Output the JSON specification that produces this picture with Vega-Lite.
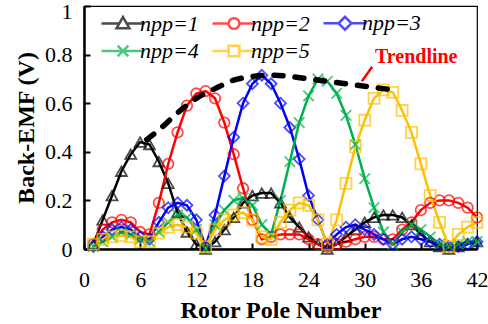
{
  "$schema": "https://vega.github.io/schema/vega-lite/v6.json",
  "width": 393,
  "height": 243,
  "autosize": "none",
  "padding": {"left": 84, "top": 6, "right": 11, "bottom": 75},
  "config": {
    "view": {"stroke": "black", "strokeWidth": 1.2},
    "font": "Liberation Serif",
    "axis": {
      "grid": false,
      "domainColor": "black",
      "domainWidth": 2.5,
      "tickColor": "black",
      "tickWidth": 2,
      "tickSize": -6,
      "labelFont": "Liberation Serif",
      "labelFontSize": 22,
      "labelColor": "black",
      "titleFont": "Liberation Serif",
      "titleFontSize": 24,
      "titleFontWeight": "bold",
      "titleColor": "black"
    }
  },
  "datasets": {
    "emf": [
      {"s":"npp=1","n":1,"v":0.02},{"s":"npp=1","n":2,"v":0.12},{"s":"npp=1","n":3,"v":0.22},{"s":"npp=1","n":4,"v":0.32},{"s":"npp=1","n":5,"v":0.39},{"s":"npp=1","n":6,"v":0.44},{"s":"npp=1","n":7,"v":0.43},{"s":"npp=1","n":8,"v":0.36},{"s":"npp=1","n":9,"v":0.27},{"s":"npp=1","n":10,"v":0.15},{"s":"npp=1","n":11,"v":0.07},{"s":"npp=1","n":12,"v":0.02},{"s":"npp=1","n":13,"v":0.0},{"s":"npp=1","n":14,"v":0.03},{"s":"npp=1","n":15,"v":0.08},{"s":"npp=1","n":16,"v":0.13},{"s":"npp=1","n":17,"v":0.19},{"s":"npp=1","n":18,"v":0.22},{"s":"npp=1","n":19,"v":0.23},{"s":"npp=1","n":20,"v":0.23},{"s":"npp=1","n":21,"v":0.19},{"s":"npp=1","n":22,"v":0.13},{"s":"npp=1","n":23,"v":0.09},{"s":"npp=1","n":24,"v":0.05},{"s":"npp=1","n":25,"v":0.02},{"s":"npp=1","n":26,"v":0.0},{"s":"npp=1","n":27,"v":0.02},{"s":"npp=1","n":28,"v":0.05},{"s":"npp=1","n":29,"v":0.08},{"s":"npp=1","n":30,"v":0.11},{"s":"npp=1","n":31,"v":0.13},{"s":"npp=1","n":32,"v":0.14},{"s":"npp=1","n":33,"v":0.14},{"s":"npp=1","n":34,"v":0.13},{"s":"npp=1","n":35,"v":0.1},{"s":"npp=1","n":36,"v":0.06},{"s":"npp=1","n":37,"v":0.03},{"s":"npp=1","n":38,"v":0.01},{"s":"npp=1","n":39,"v":0.0},{"s":"npp=1","n":40,"v":0.01},{"s":"npp=1","n":41,"v":0.02},{"s":"npp=1","n":42,"v":0.03},
      {"s":"npp=2","n":1,"v":0.02},{"s":"npp=2","n":2,"v":0.08},{"s":"npp=2","n":3,"v":0.11},{"s":"npp=2","n":4,"v":0.12},{"s":"npp=2","n":5,"v":0.11},{"s":"npp=2","n":6,"v":0.07},{"s":"npp=2","n":7,"v":0.06},{"s":"npp=2","n":8,"v":0.19},{"s":"npp=2","n":9,"v":0.35},{"s":"npp=2","n":10,"v":0.48},{"s":"npp=2","n":11,"v":0.59},{"s":"npp=2","n":12,"v":0.64},{"s":"npp=2","n":13,"v":0.65},{"s":"npp=2","n":14,"v":0.62},{"s":"npp=2","n":15,"v":0.52},{"s":"npp=2","n":16,"v":0.39},{"s":"npp=2","n":17,"v":0.25},{"s":"npp=2","n":18,"v":0.12},{"s":"npp=2","n":19,"v":0.04},{"s":"npp=2","n":20,"v":0.05},{"s":"npp=2","n":21,"v":0.06},{"s":"npp=2","n":22,"v":0.06},{"s":"npp=2","n":23,"v":0.06},{"s":"npp=2","n":24,"v":0.04},{"s":"npp=2","n":25,"v":0.02},{"s":"npp=2","n":26,"v":0.01},{"s":"npp=2","n":27,"v":0.02},{"s":"npp=2","n":28,"v":0.03},{"s":"npp=2","n":29,"v":0.04},{"s":"npp=2","n":30,"v":0.05},{"s":"npp=2","n":31,"v":0.05},{"s":"npp=2","n":32,"v":0.04},{"s":"npp=2","n":33,"v":0.04},{"s":"npp=2","n":34,"v":0.08},{"s":"npp=2","n":35,"v":0.11},{"s":"npp=2","n":36,"v":0.16},{"s":"npp=2","n":37,"v":0.19},{"s":"npp=2","n":38,"v":0.2},{"s":"npp=2","n":39,"v":0.2},{"s":"npp=2","n":40,"v":0.19},{"s":"npp=2","n":41,"v":0.17},{"s":"npp=2","n":42,"v":0.13},
      {"s":"npp=3","n":1,"v":0.01},{"s":"npp=3","n":2,"v":0.05},{"s":"npp=3","n":3,"v":0.08},{"s":"npp=3","n":4,"v":0.09},{"s":"npp=3","n":5,"v":0.08},{"s":"npp=3","n":6,"v":0.05},{"s":"npp=3","n":7,"v":0.04},{"s":"npp=3","n":8,"v":0.11},{"s":"npp=3","n":9,"v":0.17},{"s":"npp=3","n":10,"v":0.19},{"s":"npp=3","n":11,"v":0.18},{"s":"npp=3","n":12,"v":0.12},{"s":"npp=3","n":13,"v":0.01},{"s":"npp=3","n":14,"v":0.14},{"s":"npp=3","n":15,"v":0.3},{"s":"npp=3","n":16,"v":0.46},{"s":"npp=3","n":17,"v":0.6},{"s":"npp=3","n":18,"v":0.68},{"s":"npp=3","n":19,"v":0.715},{"s":"npp=3","n":20,"v":0.68},{"s":"npp=3","n":21,"v":0.6},{"s":"npp=3","n":22,"v":0.5},{"s":"npp=3","n":23,"v":0.37},{"s":"npp=3","n":24,"v":0.22},{"s":"npp=3","n":25,"v":0.12},{"s":"npp=3","n":26,"v":0.02},{"s":"npp=3","n":27,"v":0.06},{"s":"npp=3","n":28,"v":0.09},{"s":"npp=3","n":29,"v":0.1},{"s":"npp=3","n":30,"v":0.08},{"s":"npp=3","n":31,"v":0.06},{"s":"npp=3","n":32,"v":0.04},{"s":"npp=3","n":33,"v":0.02},{"s":"npp=3","n":34,"v":0.04},{"s":"npp=3","n":35,"v":0.05},{"s":"npp=3","n":36,"v":0.04},{"s":"npp=3","n":37,"v":0.03},{"s":"npp=3","n":38,"v":0.02},{"s":"npp=3","n":39,"v":0.01},{"s":"npp=3","n":40,"v":0.01},{"s":"npp=3","n":41,"v":0.02},{"s":"npp=3","n":42,"v":0.03},
      {"s":"npp=4","n":1,"v":0.01},{"s":"npp=4","n":2,"v":0.03},{"s":"npp=4","n":3,"v":0.05},{"s":"npp=4","n":4,"v":0.07},{"s":"npp=4","n":5,"v":0.06},{"s":"npp=4","n":6,"v":0.04},{"s":"npp=4","n":7,"v":0.03},{"s":"npp=4","n":8,"v":0.07},{"s":"npp=4","n":9,"v":0.11},{"s":"npp=4","n":10,"v":0.14},{"s":"npp=4","n":11,"v":0.13},{"s":"npp=4","n":12,"v":0.08},{"s":"npp=4","n":13,"v":0.0},{"s":"npp=4","n":14,"v":0.1},{"s":"npp=4","n":15,"v":0.16},{"s":"npp=4","n":16,"v":0.2},{"s":"npp=4","n":17,"v":0.21},{"s":"npp=4","n":18,"v":0.18},{"s":"npp=4","n":19,"v":0.1},{"s":"npp=4","n":20,"v":0.06},{"s":"npp=4","n":21,"v":0.2},{"s":"npp=4","n":22,"v":0.36},{"s":"npp=4","n":23,"v":0.52},{"s":"npp=4","n":24,"v":0.63},{"s":"npp=4","n":25,"v":0.7},{"s":"npp=4","n":26,"v":0.69},{"s":"npp=4","n":27,"v":0.64},{"s":"npp=4","n":28,"v":0.55},{"s":"npp=4","n":29,"v":0.43},{"s":"npp=4","n":30,"v":0.29},{"s":"npp=4","n":31,"v":0.17},{"s":"npp=4","n":32,"v":0.07},{"s":"npp=4","n":33,"v":0.02},{"s":"npp=4","n":34,"v":0.07},{"s":"npp=4","n":35,"v":0.1},{"s":"npp=4","n":36,"v":0.08},{"s":"npp=4","n":37,"v":0.05},{"s":"npp=4","n":38,"v":0.02},{"s":"npp=4","n":39,"v":0.01},{"s":"npp=4","n":40,"v":0.02},{"s":"npp=4","n":41,"v":0.03},{"s":"npp=4","n":42,"v":0.03},
      {"s":"npp=5","n":1,"v":0.02},{"s":"npp=5","n":2,"v":0.04},{"s":"npp=5","n":3,"v":0.05},{"s":"npp=5","n":4,"v":0.055},{"s":"npp=5","n":5,"v":0.05},{"s":"npp=5","n":6,"v":0.03},{"s":"npp=5","n":7,"v":0.03},{"s":"npp=5","n":8,"v":0.065},{"s":"npp=5","n":9,"v":0.09},{"s":"npp=5","n":10,"v":0.1},{"s":"npp=5","n":11,"v":0.09},{"s":"npp=5","n":12,"v":0.065},{"s":"npp=5","n":13,"v":0.01},{"s":"npp=5","n":14,"v":0.08},{"s":"npp=5","n":15,"v":0.12},{"s":"npp=5","n":16,"v":0.14},{"s":"npp=5","n":17,"v":0.15},{"s":"npp=5","n":18,"v":0.12},{"s":"npp=5","n":19,"v":0.05},{"s":"npp=5","n":20,"v":0.04},{"s":"npp=5","n":21,"v":0.11},{"s":"npp=5","n":22,"v":0.16},{"s":"npp=5","n":23,"v":0.19},{"s":"npp=5","n":24,"v":0.18},{"s":"npp=5","n":25,"v":0.12},{"s":"npp=5","n":26,"v":0.02},{"s":"npp=5","n":27,"v":0.12},{"s":"npp=5","n":28,"v":0.27},{"s":"npp=5","n":29,"v":0.42},{"s":"npp=5","n":30,"v":0.53},{"s":"npp=5","n":31,"v":0.62},{"s":"npp=5","n":32,"v":0.655},{"s":"npp=5","n":33,"v":0.645},{"s":"npp=5","n":34,"v":0.57},{"s":"npp=5","n":35,"v":0.48},{"s":"npp=5","n":36,"v":0.35},{"s":"npp=5","n":37,"v":0.22},{"s":"npp=5","n":38,"v":0.11},{"s":"npp=5","n":39,"v":0.01},{"s":"npp=5","n":40,"v":0.06},{"s":"npp=5","n":41,"v":0.09},{"s":"npp=5","n":42,"v":0.11}
    ],
    "trend": [
      {"n":6.7,"v":0.45},{"n":8,"v":0.49},{"n":10,"v":0.56},{"n":12,"v":0.62},{"n":14,"v":0.66},{"n":16,"v":0.695},{"n":18,"v":0.71},{"n":20,"v":0.715},{"n":22,"v":0.71},{"n":24,"v":0.7},{"n":26,"v":0.69},{"n":28,"v":0.68},{"n":30,"v":0.67},{"n":32,"v":0.66},{"n":33,"v":0.655}
    ],
    "note": [{"label": "Trendline"}]
  },
  "layer": [
    {
      "data": {"name": "emf"},
      "mark": {"type": "line", "strokeWidth": 2.5},
      "encoding": {
        "x": {"field": "n", "type": "quantitative", "scale": {"domain": [0, 42], "nice": false}, "axis": {"values": [0,6,12,18,24,30,36,42], "title": "Rotor Pole Number", "labelPadding": 26, "titlePadding": 8, "labelFlush": false}},
        "y": {"field": "v", "type": "quantitative", "scale": {"domain": [0, 1], "nice": false}, "axis": {"values": [0,0.2,0.4,0.6,0.8,1], "format": "~g", "title": "Back-EMF (V)", "labelPadding": 18, "titlePadding": 6, "labelFlush": false,
          "labelBaseline": {"condition": {"test": "datum.value == 1", "value": "top"}, "value": "middle"},
          "labelOffset": {"condition": {"test": "datum.value == 1", "value": -5}, "value": 0}}},
        "color": {"field": "s", "type": "nominal", "scale": {"domain": ["npp=1","npp=2","npp=3","npp=4","npp=5"], "range": ["#000000","#FF0000","#0000FF","#00B050","#FFC000"]},
          "legend": {"title": null, "orient": "none", "legendX": 27, "legendY": 5, "columns": 3, "gridAlign": "all", "direction": "horizontal", "symbolSize": 462, "symbolStrokeWidth": 2.5, "labelOffset": 5, "labelFont": "Liberation Serif", "labelFontSize": 22, "labelFontStyle": "italic", "labelColor": "black", "columnPadding": 8, "rowPadding": 4, "padding": 0}}
      }
    },
    {
      "data": {"name": "emf"},
      "transform": [{"filter": "datum.s == 'npp=1'"}],
      "mark": {"type": "point", "shape": "triangle-up", "filled": false, "size": 120, "strokeWidth": 1.8},
      "encoding": {"x": {"field": "n", "type": "quantitative"}, "y": {"field": "v", "type": "quantitative"}, "color": {"field": "s", "type": "nominal"}}
    },
    {
      "data": {"name": "emf"},
      "transform": [{"filter": "datum.s == 'npp=2'"}],
      "mark": {"type": "point", "shape": "circle", "filled": false, "size": 110, "strokeWidth": 1.8},
      "encoding": {"x": {"field": "n", "type": "quantitative"}, "y": {"field": "v", "type": "quantitative"}, "color": {"field": "s", "type": "nominal"}}
    },
    {
      "data": {"name": "emf"},
      "transform": [{"filter": "datum.s == 'npp=3'"}],
      "mark": {"type": "point", "shape": "diamond", "filled": false, "size": 120, "strokeWidth": 1.8},
      "encoding": {"x": {"field": "n", "type": "quantitative"}, "y": {"field": "v", "type": "quantitative"}, "color": {"field": "s", "type": "nominal"}}
    },
    {
      "data": {"name": "emf"},
      "transform": [{"filter": "datum.s == 'npp=4'"}],
      "mark": {"type": "point", "shape": "M-1,-1L1,1M-1,1L1,-1", "filled": false, "size": 110, "strokeWidth": 1.8},
      "encoding": {"x": {"field": "n", "type": "quantitative"}, "y": {"field": "v", "type": "quantitative"}, "color": {"field": "s", "type": "nominal"}}
    },
    {
      "data": {"name": "emf"},
      "transform": [{"filter": "datum.s == 'npp=5'"}],
      "mark": {"type": "point", "shape": "square", "filled": false, "size": 120, "strokeWidth": 1.8},
      "encoding": {"x": {"field": "n", "type": "quantitative"}, "y": {"field": "v", "type": "quantitative"}, "color": {"field": "s", "type": "nominal"}}
    },
    {
      "data": {"name": "emf"},
      "transform": [{"filter": "false"}],
      "mark": {"type": "point", "filled": false, "strokeWidth": 2.5},
      "encoding": {
        "x": {"field": "n", "type": "quantitative"},
        "y": {"field": "v", "type": "quantitative"},
        "color": {"field": "s", "type": "nominal"},
        "shape": {"field": "s", "type": "nominal",
          "scale": {"domain": ["npp=1","npp=2","npp=3","npp=4","npp=5"],
            "range": [
              "M-2,0H-0.35M0.35,0H2M0,-0.6L0.6,0.44L-0.6,0.44Z",
              "M-2,0H-0.5M0.5,0H2M-0.5,0A0.5,0.5,0,1,1,0.5,0A0.5,0.5,0,1,1,-0.5,0Z",
              "M-2,0H-0.6M0.6,0H2M0,-0.6L0.6,0L0,0.6L-0.6,0Z",
              "M-2,0H2M-0.5,-0.5L0.5,0.5M-0.5,0.5L0.5,-0.5",
              "M-2,0H-0.5M0.5,0H2M-0.5,-0.5H0.5V0.5H-0.5Z"
            ]},
          "legend": {"title": null, "orient": "none", "legendX": 27, "legendY": 5, "columns": 3, "gridAlign": "all", "direction": "horizontal", "symbolSize": 462, "symbolStrokeWidth": 2.5, "labelOffset": 5, "labelFont": "Liberation Serif", "labelFontSize": 22, "labelFontStyle": "italic", "labelColor": "black", "columnPadding": 8, "rowPadding": 4, "padding": 0}}
      }
    },
    {
      "data": {"name": "trend"},
      "mark": {"type": "line", "color": "black", "strokeWidth": 5.5, "strokeDash": [9, 12], "strokeCap": "round", "interpolate": "monotone"},
      "encoding": {"x": {"field": "n", "type": "quantitative"}, "y": {"field": "v", "type": "quantitative"}}
    },
    {
      "data": {"name": "note"},
      "mark": {"type": "rule", "color": "#FF0000", "strokeWidth": 2.5},
      "encoding": {"x": {"datum": 30.8}, "y": {"datum": 0.75}, "x2": {"datum": 29.7}, "y2": {"datum": 0.69}}
    },
    {
      "data": {"name": "note"},
      "mark": {"type": "text", "color": "#FF0000", "font": "Liberation Serif", "fontSize": 20, "fontWeight": "bold", "align": "center", "baseline": "middle"},
      "encoding": {"x": {"datum": 35.5}, "y": {"datum": 0.79}, "text": {"field": "label"}}
    }
  ]
}
